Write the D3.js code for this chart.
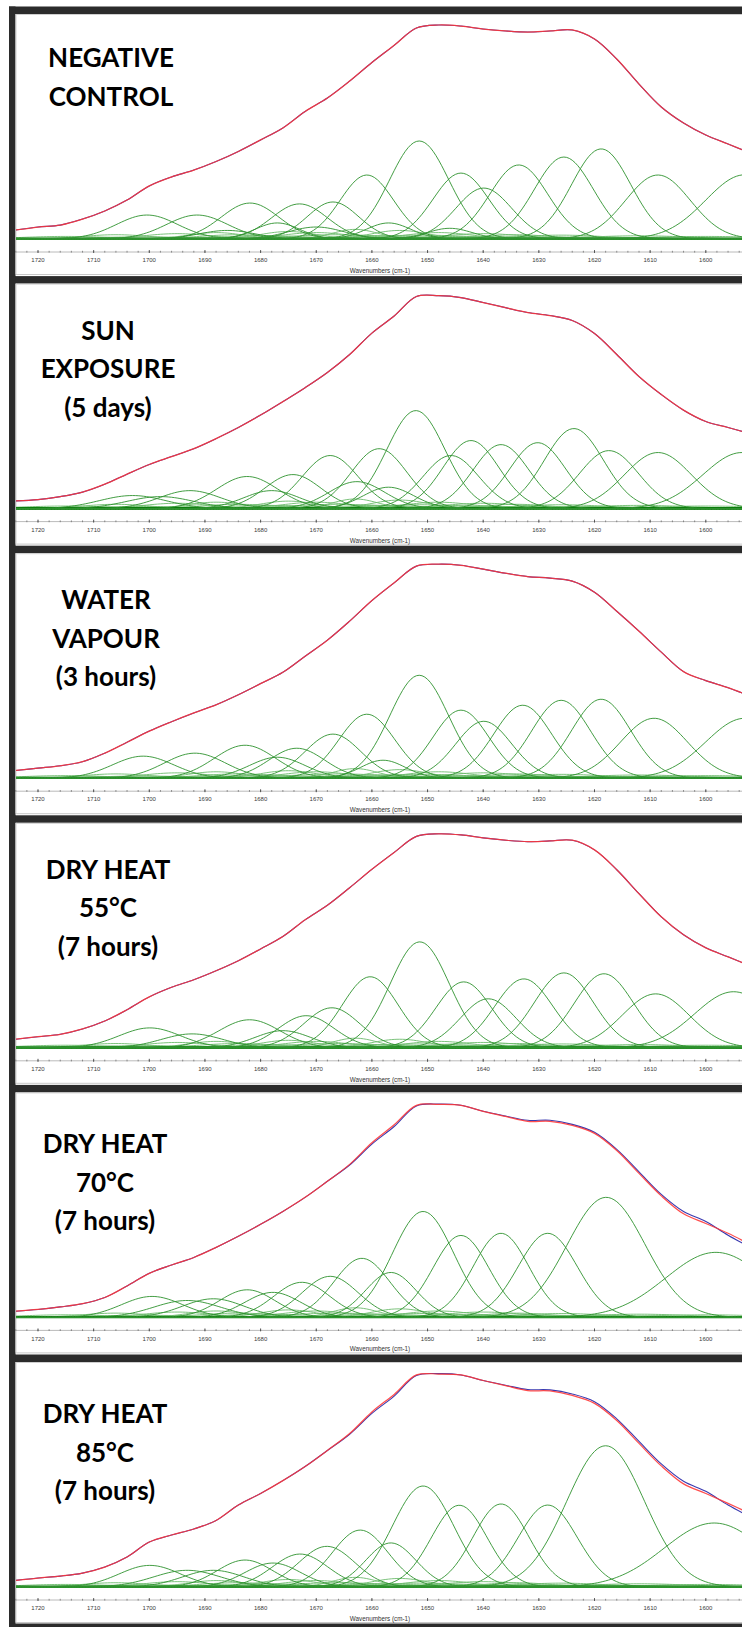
<!DOCTYPE html>
<html>
<head>
<meta charset="utf-8">
<script src="https://cdn.jsdelivr.net/npm/d3@7"></script>
<style>
  body { margin: 0; background: #fff; }
  svg { display: block; }
</style>
</head>
<body>
<script>
// spectra are read every 4 cm-1, intensities normalised to the band maximum
var wn = [1724,1720,1716,1712,1708,1704,1700,1696,1692,1688,1684,1680,1676,1672,1668,1664,1660,
          1656,1652,1648,1644,1640,1636,1632,1628,1624,1620,1616,1612,1608,1604,1600,1596,1592];

var titles = [
  ['NEGATIVE', 'CONTROL'],
  ['SUN', 'EXPOSURE', '(5 days)'],
  ['WATER', 'VAPOUR', '(3 hours)'],
  ['DRY HEAT', '55°C', '(7 hours)'],
  ['DRY HEAT', '70°C', '(7 hours)'],
  ['DRY HEAT', '85°C', '(7 hours)']
];

// measured spectrum (red) and fitted sum (blue)
var red1 = [.042,.056,.065,.093,.131,.182,.248,.290,.322,.362,.409,.463,.519,.596,.659,.738,.825,
            .905,.986,1.0,.995,.981,.972,.967,.972,.977,.935,.841,.724,.617,.542,.486,.444,.402];
var red2 = [.036,.042,.056,.077,.114,.161,.206,.243,.280,.327,.379,.437,.500,.565,.636,.720,.820,
            .900,.991,.995,.986,.963,.939,.916,.902,.879,.818,.720,.617,.533,.460,.407,.379,.350];
var red3 = [.036,.047,.058,.077,.117,.168,.220,.264,.305,.343,.390,.442,.495,.570,.645,.734,.830,
            .913,.991,1.0,.995,.977,.958,.942,.935,.921,.869,.780,.687,.589,.498,.456,.423,.383];
var red4 = [.040,.052,.063,.088,.125,.178,.238,.283,.318,.360,.407,.462,.520,.598,.666,.748,.834,
            .913,.988,1.0,.995,.981,.970,.963,.967,.970,.925,.832,.720,.612,.528,.467,.425,.383];
var red5 = [.029,.037,.049,.064,.093,.147,.206,.245,.280,.327,.379,.435,.495,.561,.636,.715,.816,
            .900,.991,.995,.991,.963,.939,.916,.916,.897,.860,.780,.673,.568,.484,.439,.393,.341];
var blue5 = [.029,.037,.049,.064,.093,.147,.206,.245,.280,.327,.379,.435,.495,.561,.636,.712,.810,
             .892,.988,.997,.991,.963,.941,.921,.921,.902,.865,.785,.680,.575,.495,.448,.384,.327];
var red6 = [.031,.042,.051,.065,.093,.140,.210,.243,.271,.311,.383,.437,.497,.563,.638,.717,.818,
            .900,.991,.995,.991,.965,.941,.918,.916,.895,.858,.778,.671,.566,.482,.437,.391,.343];
var blue6 = [.031,.042,.051,.065,.093,.140,.210,.243,.271,.311,.383,.437,.497,.563,.638,.714,.811,
             .892,.988,.997,.991,.965,.943,.923,.921,.902,.866,.786,.680,.575,.494,.447,.383,.328];

// fitted component bands: [centre cm-1, height, sigma cm-1]
var comp1 = [[1700.4,.112,5.5],[1691.4,.112,5.5],[1681.9,.168,5.2],[1673,.164,5],[1667,.173,4.6],
             [1660.9,.299,4.8],[1651.5,.458,5.3],[1644,.308,5],[1639.9,.238,5],[1633.6,.346,5.2],
             [1625.5,.383,5.3],[1618.8,.421,5.3],[1608.6,.299,5.8],[1593,.30,7],
             [1677,.075,4],[1657,.075,4],[1670,.056,5],[1686,.04,5],[1646,.05,4]];
var comp2 = [[1703,.061,6],[1698,.056,6],[1692.7,.084,5.5],[1682.4,.150,5.5],[1678,.084,5],
             [1674.2,.159,5],[1667.5,.248,5],[1662.7,.126,5],[1658.7,.280,5],[1657,.10,4.5],
             [1652.1,.458,5.2],[1645.8,.248,5],[1642.2,.318,5],[1636.8,.299,5],[1630.2,.308,5],
             [1623.7,.374,5.3],[1617.4,.271,5.3],[1608.6,.262,6],[1593.5,.262,7]];
var comp3 = [[1701.1,.103,5.5],[1691.8,.117,5.5],[1682.8,.154,5.5],[1677,.098,5],[1673.5,.140,5],
             [1667,.206,5],[1660.9,.299,5],[1658,.084,4],[1651.5,.481,5.3],[1644,.318,5],
             [1639.9,.266,5],[1632.9,.341,5.2],[1626,.364,5.3],[1618.8,.369,5.3],[1609.3,.280,6],
             [1593,.280,7]];
var comp4 = [[1699.9,.093,5.5],[1692.3,.065,5.5],[1682,.131,5.5],[1676,.08,5],[1671.8,.150,5],
             [1667.2,.187,5],[1660.3,.332,5],[1651.4,.495,5.3],[1643.5,.308,5],[1639.1,.229,5],
             [1632.7,.322,5.2],[1625.5,.350,5.3],[1618.3,.346,5.3],[1609,.252,6],[1595,.262,7]];
var comp5 = [[1699.5,.098,5.5],[1693.2,.079,6],[1688.5,.087,5.5],[1682.4,.129,5],[1677.8,.117,5],
             [1672.6,.164,5],[1667.5,.192,5],[1661.8,.276,5],[1656.6,.210,4.5],[1650.8,.495,5.5],
             [1644,.383,5],[1636.8,.393,5],[1628.4,.393,5.3],[1617.9,.561,7],[1598.2,.304,9]];
var comp6 = [[1699.9,.101,5.5],[1693.2,.078,6],[1688.5,.078,5.5],[1682.8,.126,5],[1677.8,.112,5],
             [1672.9,.154,5],[1668.1,.190,5],[1662.1,.266,5],[1656.6,.206,4.5],[1650.8,.472,5.5],
             [1644.3,.382,5],[1636.8,.388,5],[1628.4,.383,5.3],[1618,.66,7],[1598.5,.299,9]];

// the many tiny bands lying on the baseline
var minor = [[1715,.012,8],[1706,.02,6],[1701,.01,9],[1695,.025,6],[1688,.03,5],[1684,.02,7],
             [1679,.015,8],[1675,.035,5],[1670,.03,6],[1666,.02,9],[1663,.045,4],[1659,.015,8],
             [1655,.04,5],[1651,.018,9],[1648,.03,6],[1643,.012,10],[1640,.025,7],[1634,.02,6],
             [1630,.01,12],[1626,.018,8],[1619,.008,12],[1612,.015,9],[1600,.012,10]];

var majorTicks = [1720,1710,1700,1690,1680,1670,1660,1650,1640,1630,1620,1610,1600];

// ---- layout
var W = 742, H = 1627;
var top0 = 8, pitch = 269.6;
var titleTop = [59, 62, 62, 62, 67, 67], titleX = [111, 108, 106, 108, 105, 105], lineGap = 38.5;

var reds = [red1, red2, red3, red4, red5, red6];
var blues = [red1, red2, red3, red4, blue5, blue6];
var comps = [comp1, comp2, comp3, comp4, comp5, comp6];

var x = d3.scaleLinear().domain([1720, 1600]).range([38, 705.8]);
var y = d3.scaleLinear().domain([0, 1]).range([231, 17]);

var grid = d3.range(1727, 1589, -0.5);
function band(b) {
  return grid.map(function(w) {
    return [w, b[1] * Math.exp(-(w - b[0]) * (w - b[0]) / (2 * b[2] * b[2]))];
  });
}

var specLine = d3.line()
  .x(function(d) { return x(d[0]); })
  .y(function(d) { return y(d[1]); })
  .curve(d3.curveCatmullRom);
var bandLine = d3.line()
  .x(function(d) { return x(d[0]); })
  .y(function(d) { return y(d[1]); });

var svg = d3.select('body').append('svg')
  .attr('width', W)
  .attr('height', H);

svg.append('rect').attr('width', W).attr('height', H).attr('fill', '#fff');

titles.forEach(function(t, i) {
  var g = svg.append('g').attr('transform', 'translate(0,' + (top0 + pitch * i) + ')');

  g.append('clipPath').attr('id', 'clip' + i)
    .append('rect').attr('x', 16).attr('y', 6).attr('width', W - 16).attr('height', 259);

  // frame
  g.append('rect').attr('x', 9).attr('y', -1.5).attr('width', W).attr('height', 7.5).attr('fill', '#2b2b2b');
  g.append('rect').attr('x', 9).attr('y', -1.5).attr('width', 6.5).attr('height', pitch + 2).attr('fill', '#2b2b2b');
  g.append('line').attr('x1', 16).attr('x2', W).attr('y1', 6.5).attr('y2', 6.5).attr('stroke', '#cfcfcf');
  g.append('line').attr('x1', 16).attr('x2', 16).attr('y1', 6).attr('y2', 266).attr('stroke', '#cfcfcf');
  g.append('line').attr('x1', 16).attr('x2', W).attr('y1', 266.5).attr('y2', 266.5).attr('stroke', '#c8c8c8');
  if (i === titles.length - 1) {
    g.append('rect').attr('x', 9).attr('y', 267.5).attr('width', W).attr('height', 8).attr('fill', '#2b2b2b');
  }

  var plot = g.append('g').attr('clip-path', 'url(#clip' + i + ')');

  plot.selectAll('.minor')
    .data(minor)
    .enter()
    .append('path')
    .attr('d', function(d) { return bandLine(band(d)); })
    .attr('fill', 'none')
    .attr('stroke', '#6dbb6d')
    .attr('stroke-width', 0.9);

  plot.append('line')
    .attr('x1', 16).attr('x2', W)
    .attr('y1', y(0) - 0.3).attr('y2', y(0) - 0.3)
    .attr('stroke', '#0c7c0c')
    .attr('stroke-width', 2.4);

  plot.selectAll('.comp')
    .data(comps[i])
    .enter()
    .append('path')
    .attr('d', function(d) { return bandLine(band(d)); })
    .attr('fill', 'none')
    .attr('stroke', '#2f922f')
    .attr('stroke-opacity', 0.9)
    .attr('stroke-width', 1);

  plot.append('path')
    .attr('d', specLine(wn.map(function(w, k) { return [w, blues[i][k]]; })))
    .attr('fill', 'none')
    .attr('stroke', '#3a3ab0')
    .attr('stroke-width', 1.1);

  plot.append('path')
    .attr('d', specLine(wn.map(function(w, k) { return [w, reds[i][k]]; })))
    .attr('fill', 'none')
    .attr('stroke', '#ff3434')
    .attr('stroke-opacity', 0.88)
    .attr('stroke-width', 1.25);

  // axis
  var ax = g.append('g').attr('transform', 'translate(0,244)');
  ax.append('line').attr('x1', 16).attr('x2', W).attr('stroke', '#a8a8a8').attr('stroke-width', 0.8);
  ax.selectAll('.mt')
    .data(d3.range(1724, 1590, -2))
    .enter()
    .append('line')
    .attr('x1', function(d) { return x(d); })
    .attr('x2', function(d) { return x(d); })
    .attr('y1', -1.2).attr('y2', 0.6)
    .attr('stroke', '#666').attr('stroke-width', 0.7);
  ax.selectAll('.Mt')
    .data(majorTicks)
    .enter()
    .append('line')
    .attr('x1', function(d) { return x(d); })
    .attr('x2', function(d) { return x(d); })
    .attr('y1', -2).attr('y2', 1)
    .attr('stroke', '#444').attr('stroke-width', 0.8);
  ax.selectAll('.tl')
    .data(majorTicks)
    .enter()
    .append('text')
    .attr('x', function(d) { return x(d); })
    .attr('y', 10.2)
    .attr('text-anchor', 'middle')
    .attr('font-family', 'Liberation Sans, Arial, sans-serif')
    .attr('font-size', 6)
    .attr('fill', '#3a3a3a')
    .text(function(d) { return d; });

  g.append('text')
    .attr('x', 380).attr('y', 265)
    .attr('text-anchor', 'middle')
    .attr('font-family', 'Liberation Sans, Arial, sans-serif')
    .attr('font-size', 6.3)
    .attr('fill', '#333')
    .text('Wavenumbers (cm-1)');

  // panel title
  g.selectAll('.title')
    .data(t)
    .enter()
    .append('text')
    .attr('x', titleX[i])
    .attr('y', function(d, k) { return titleTop[i] + k * lineGap; })
    .attr('text-anchor', 'middle')
    .attr('font-family', 'Lato, sans-serif')
    .attr('font-weight', 'bold')
    .attr('font-size', 26)
    .attr('fill', '#000')
    .text(function(d) { return d; });
});
</script>
</body>
</html>
